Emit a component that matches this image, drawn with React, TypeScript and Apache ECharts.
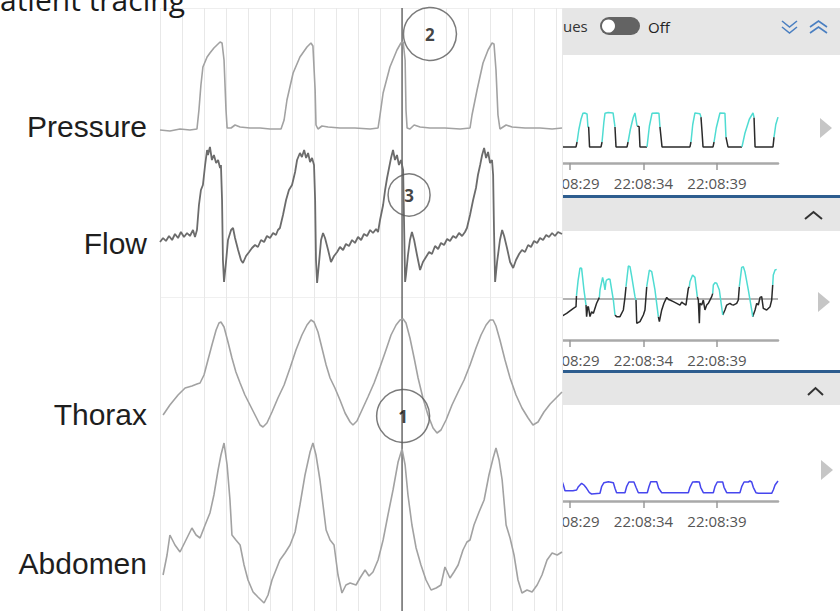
import React, { useEffect, useRef } from "react";
import * as echarts from "echarts";

// ---------- Left: patient tracing (time in seconds, signal units) ----------
const traceLabels = ["Pressure", "Flow", "Thorax", "Abdomen"];

const pressureTrace: number[][] = [
  [0, 6.0], [0.45, 5.8], [0.91, 6.2], [1.36, 6.0], [1.68, 6.2], [1.77, 10], [1.86, 15], [1.95, 18.6],
  [2.14, 20.6], [2.27, 21.4], [2.45, 22.4], [2.59, 23], [2.73, 23.6], [2.82, 23.4], [2.91, 20], [3.0, 10],
  [3.05, 6.4], [3.23, 6.4], [3.41, 7.0], [3.64, 6.6], [4.09, 6.4], [4.55, 6.4], [5.0, 6.2], [5.5, 6.2],
  [5.64, 8.0], [5.77, 12.0], [6.05, 17.4], [6.36, 20.6], [6.68, 22.6], [6.86, 23.4], [6.95, 22.8], [7.05, 14.0],
  [7.09, 7.0], [7.18, 6.2], [7.36, 6.8], [7.64, 6.6], [8.18, 6.4], [8.86, 6.4], [9.55, 6.2], [9.91, 6.4],
  [10.0, 9.0], [10.14, 13.4], [10.45, 18.6], [10.77, 22.0], [10.95, 23.4], [11.05, 23.6], [11.14, 20.0],
  [11.18, 10.0], [11.23, 6.4], [11.36, 6.2], [11.55, 7.0], [11.82, 6.6], [12.27, 6.4], [12.95, 6.4],
  [13.64, 6.2], [14.09, 6.4], [14.18, 9.0], [14.41, 14.0], [14.68, 19.4], [14.91, 22.0], [15.09, 23.4],
  [15.18, 23.2], [15.27, 18.0], [15.36, 9.0], [15.45, 6.2], [15.73, 7.0], [16.0, 6.6], [16.59, 6.4],
  [17.27, 6.4], [17.82, 6.2], [18.27, 6.4],
];

const flowTrace: number[][] = [
  [0, -2], [0.14, 2], [0.27, -1], [0.41, 4], [0.55, 0], [0.68, 6], [0.82, 2], [0.95, 8], [1.09, 3], [1.23, 7],
  [1.36, 4], [1.5, 10], [1.59, 3], [1.68, 10], [1.77, 35], [1.86, 50], [1.95, 55], [2.05, 75], [2.14, 90],
  [2.18, 85], [2.27, 93], [2.36, 80], [2.45, 85], [2.55, 77], [2.64, 80], [2.73, 72], [2.77, 75], [2.82, 40],
  [2.86, -20], [2.91, -42], [3.0, -22], [3.09, 0], [3.23, 10], [3.32, 12], [3.41, 2], [3.55, -10], [3.68, -20],
  [3.77, -23], [3.91, -16], [4.05, -12], [4.18, -8], [4.32, -5], [4.45, -7], [4.59, 0], [4.73, -2], [4.86, 4],
  [5.0, 2], [5.14, 7], [5.27, 5], [5.36, 10], [5.45, 12], [5.59, 25], [5.73, 40], [5.86, 50], [6.0, 55],
  [6.14, 68], [6.23, 80], [6.36, 87], [6.45, 83], [6.55, 90], [6.64, 82], [6.73, 87], [6.82, 78], [6.91, 82],
  [7.0, 75], [7.05, 40], [7.09, -20], [7.14, -43], [7.23, -22], [7.32, 0], [7.41, 7], [7.5, 2], [7.64, -10],
  [7.77, -22], [7.91, -16], [8.05, -12], [8.18, -7], [8.32, -10], [8.45, -4], [8.59, -6], [8.73, 0], [8.86, -3],
  [9.0, 3], [9.14, 0], [9.27, 6], [9.41, 4], [9.55, 10], [9.68, 7], [9.82, 11], [9.91, 8], [10.0, 20],
  [10.14, 35], [10.23, 50], [10.32, 62], [10.41, 72], [10.5, 82], [10.59, 90], [10.68, 80], [10.77, 85],
  [10.86, 75], [10.95, 80], [11.05, 70], [11.09, 20], [11.14, -42], [11.18, -35], [11.27, -15], [11.36, 0],
  [11.45, 8], [11.55, 0], [11.68, -15], [11.82, -30], [11.95, -22], [12.09, -17], [12.23, -12], [12.36, -14],
  [12.5, -6], [12.64, -9], [12.77, -3], [12.91, -5], [13.05, 1], [13.18, -1], [13.32, 4], [13.45, 2],
  [13.59, 7], [13.73, 4], [13.86, 8], [13.95, 12], [14.09, 25], [14.23, 40], [14.36, 52], [14.45, 65],
  [14.55, 75], [14.64, 85], [14.73, 92], [14.82, 82], [14.91, 88], [15.0, 77], [15.09, 80], [15.14, 65],
  [15.18, 10], [15.23, -42], [15.32, -22], [15.45, 0], [15.55, 10], [15.64, 4], [15.77, -8], [15.91, -22],
  [16.05, -28], [16.18, -20], [16.32, -14], [16.45, -10], [16.59, -12], [16.73, -5], [16.86, -7], [17.0, -1],
  [17.14, -3], [17.27, 2], [17.41, 0], [17.55, 5], [17.68, 3], [17.82, 7], [17.95, 4], [18.09, 8], [18.27, 6],
];

const thoraxTrace: number[][] = [
  [0.14, 45], [0.45, 55], [0.82, 65], [1.14, 72], [1.45, 74], [1.68, 76], [1.82, 77], [2.0, 85], [2.18, 100],
  [2.36, 115], [2.55, 130], [2.68, 137], [2.77, 138], [2.91, 133], [3.09, 118], [3.27, 102], [3.45, 88],
  [3.64, 77], [3.86, 65], [4.09, 55], [4.32, 45], [4.55, 35], [4.68, 33], [4.86, 37], [5.09, 48], [5.36, 62],
  [5.64, 75], [5.91, 92], [6.18, 110], [6.45, 125], [6.68, 135], [6.86, 140], [7.0, 138], [7.18, 128],
  [7.36, 112], [7.55, 95], [7.73, 82], [7.95, 72], [8.18, 60], [8.41, 47], [8.64, 38], [8.77, 35], [8.95, 39],
  [9.18, 50], [9.45, 63], [9.73, 77], [10.0, 93], [10.27, 110], [10.5, 125], [10.73, 135], [10.91, 140],
  [11.05, 141], [11.18, 137], [11.36, 122], [11.55, 102], [11.73, 82], [11.95, 62], [12.18, 45], [12.41, 32],
  [12.59, 27], [12.77, 30], [13.0, 40], [13.27, 55], [13.55, 68], [13.82, 80], [14.09, 95], [14.36, 112],
  [14.59, 125], [14.82, 135], [15.0, 140], [15.14, 140], [15.27, 134], [15.45, 120], [15.68, 100], [15.91, 82],
  [16.18, 65], [16.45, 52], [16.73, 42], [16.95, 35], [17.18, 38], [17.45, 48], [17.73, 56], [18.0, 62],
  [18.27, 68],
];

const abdomenTrace: number[][] = [
  [0.14, 36], [0.32, 56], [0.45, 76], [0.68, 66], [0.91, 59], [1.18, 71], [1.45, 83], [1.64, 76], [1.82, 73],
  [2.05, 86], [2.27, 98], [2.45, 116], [2.64, 141], [2.77, 156], [2.91, 168], [3.05, 146], [3.18, 111],
  [3.27, 76], [3.45, 71], [3.64, 66], [3.82, 46], [4.0, 31], [4.23, 19], [4.45, 14], [4.73, 8], [4.91, 16],
  [5.09, 31], [5.27, 41], [5.45, 51], [5.68, 58], [5.91, 66], [6.14, 79], [6.36, 106], [6.59, 136],
  [6.82, 159], [6.95, 168], [7.09, 156], [7.27, 131], [7.41, 106], [7.55, 81], [7.73, 71], [7.91, 66],
  [8.09, 36], [8.27, 18], [8.45, 26], [8.64, 28], [8.91, 26], [9.09, 33], [9.32, 41], [9.5, 35], [9.68, 39],
  [9.91, 51], [10.14, 71], [10.36, 96], [10.59, 121], [10.82, 149], [11.0, 162], [11.14, 146], [11.27, 116],
  [11.45, 86], [11.64, 63], [11.86, 46], [12.09, 31], [12.32, 21], [12.55, 23], [12.77, 26], [12.95, 44],
  [13.18, 33], [13.36, 39], [13.55, 46], [13.77, 61], [13.95, 69], [14.09, 71], [14.27, 86], [14.5, 99],
  [14.73, 111], [14.95, 136], [15.14, 153], [15.27, 163], [15.41, 151], [15.55, 131], [15.73, 86], [15.91, 73],
  [16.09, 56], [16.27, 31], [16.45, 18], [16.68, 21], [16.91, 19], [17.14, 26], [17.36, 36], [17.59, 51],
  [17.82, 58], [18.05, 56], [18.27, 59],
];

const cursorTime = 11.0;
const annotationLabels = ["2", "3", "1"];
const annotationTimes = [12.27, 11.32, 11.05];
const annotationValues = [25.2, 45, 44];

// ---------- Right: ventilator screen (seconds from 22:08:29) ----------
const tickSeconds = [0, 5, 10];
const tickLabels = ["22:08:29", "22:08:34", "22:08:39"];

const devPressureExp: number[][][] = [
  [[-0.6, 13.0], [-0.52, 4.6], [0.41, 4.6], [0.48, 6.0]],
  [[1.22, 10.3], [1.27, 10.2], [1.33, 4.6], [2.11, 4.6], [2.18, 6.0]],
  [[3.06, 10.3], [3.13, 4.6], [3.88, 4.6], [3.95, 6.0]],
  [[4.56, 10.6], [4.7, 10.4], [4.76, 4.6], [5.24, 4.6]],
  [[6.12, 10.3], [6.26, 4.6], [8.16, 4.6], [8.23, 6.0]],
  [[8.91, 13.1], [8.98, 9.0], [9.05, 4.6], [9.73, 4.6], [9.8, 6.0]],
  [[10.61, 7.4], [10.75, 4.6], [11.7, 4.6]],
  [[12.52, 13.0], [12.59, 4.6], [13.81, 4.6], [13.88, 7.4]],
];
const devPressureInsp: number[][][] = [
  [[0.48, 6.0], [0.6, 9.5], [0.75, 12.5], [0.88, 14.2], [1.0, 14.3], [1.16, 14.0], [1.22, 10.3]],
  [[2.18, 6.0], [2.3, 11.5], [2.38, 14.2], [2.6, 14.4], [2.93, 14.3], [3.06, 10.3]],
  [[3.95, 6.0], [4.1, 9.5], [4.3, 13.0], [4.42, 14.3], [4.56, 10.6]],
  [[5.24, 4.6], [5.4, 10.5], [5.58, 14.2], [5.9, 14.3], [6.05, 14.2], [6.12, 10.3]],
  [[8.23, 6.0], [8.35, 11.0], [8.5, 14.3], [8.84, 14.1], [8.91, 13.1]],
  [[9.8, 6.0], [9.95, 10.0], [10.2, 14.3], [10.54, 14.2], [10.61, 7.4]],
  [[11.7, 4.6], [11.9, 8.5], [12.2, 12.5], [12.45, 14.3], [12.52, 13.0]],
  [[13.88, 7.4], [14.0, 11.0], [14.15, 13.1]],
];

const devFlowExp: number[][][] = [
  [[-0.6, -17.2], [-0.23, -14.0], [0.23, -9.1], [0.41, -7.5], [0.44, 3.0]],
  [[1.09, -5.9], [1.13, -17.2], [1.2, -8.0], [1.25, -7.5], [1.36, -17.2], [1.47, -12.4], [1.59, -14.0], [1.81, -4.2], [2.0, 1.6]],
  [[3.06, -15.6], [3.17, -17.2], [3.4, -17.2], [3.63, -10.7], [3.74, 1.6], [3.81, 12.0]],
  [[4.49, -1.0], [4.54, -23.7], [4.76, -22.1], [4.99, -15.6], [5.1, -10.7], [5.17, 2.3], [5.22, 12.0]],
  [[6.01, -17.2], [6.08, -22.1], [6.24, -10.7], [6.39, -4.2], [6.58, 1.6], [6.7, -0.5], [6.8, -1.0], [7.03, -2.6], [7.26, -4.2], [7.48, -5.9], [7.6, -3.0], [7.71, -4.2], [7.89, -5.9], [8.05, 10.4], [8.12, 12.0]],
  [[8.66, 2.3], [8.73, -1.0], [8.8, -23.7], [8.84, -4.2], [8.96, -5.9], [9.07, -1.0], [9.18, -10.7], [9.3, -5.9], [9.41, -4.2], [9.64, 2.3], [9.71, 5.5]],
  [[10.39, -15.6], [10.43, -15.6], [10.54, -10.7], [10.66, -5.9], [10.88, -4.2], [11.0, -5.5], [11.11, -5.9], [11.34, -4.2], [11.45, -1.0], [11.52, 12.0]],
  [[12.43, -17.2], [12.47, -15.6], [12.59, -10.7], [12.7, -4.2], [12.81, -5.9], [12.93, 1.6], [13.04, 2.3], [13.15, -9.1], [13.38, -10.7], [13.61, -7.5], [13.72, -1.0], [13.79, 13.7]],
];
const devFlowInsp: number[][][] = [
  [[0.44, 3.0], [0.55, 18.0], [0.68, 30.2], [0.79, 29.9], [0.95, 8.8], [1.09, -5.9]],
  [[2.0, 1.6], [2.04, 8.8], [2.22, 21.1], [2.31, 15.3], [2.38, 8.8], [2.45, 17.0], [2.49, 18.5], [2.6, 19.5], [2.72, 19.2], [2.95, -1.0], [3.06, -15.6]],
  [[3.81, 12.0], [3.97, 32.2], [4.08, 31.5], [4.2, 21.8], [4.42, 2.3], [4.49, -1.0]],
  [[5.22, 12.0], [5.4, 28.3], [5.56, 26.7], [5.78, 8.8], [6.01, -17.2]],
  [[8.12, 12.0], [8.16, 16.9], [8.34, 23.4], [8.5, 21.1], [8.66, 2.3]],
  [[9.71, 5.5], [9.75, 13.7], [9.86, 15.9], [9.98, 15.3], [10.16, 8.8], [10.39, -15.6]],
  [[11.52, 12.0], [11.68, 30.9], [11.79, 31.5], [11.9, 26.7], [12.13, 8.8], [12.36, -10.7], [12.43, -17.2]],
  [[13.79, 13.7], [13.83, 23.4], [13.95, 28.3], [14.06, 28.9]],
];

const devEffort: number[][] = [
  [-0.57, 21], [-0.45, 16], [-0.34, 10.3], [-0.11, 10.3], [0.2, 10.3], [0.45, 11], [0.57, 14.3], [0.79, 17.7],
  [0.95, 16], [1.13, 12.7], [1.32, 8.3], [1.47, 7], [2.04, 7.7], [2.15, 14.3], [2.31, 18.3], [2.61, 19.3],
  [2.95, 18.3], [3.06, 12.7], [3.17, 8.3], [3.74, 8.3], [3.85, 14.3], [4.01, 19], [4.35, 19], [4.49, 13.7],
  [4.65, 8.3], [5.26, 8.3], [5.37, 14.3], [5.49, 19.3], [5.9, 19.3], [6.03, 12.7], [6.24, 8.3], [8.05, 8.3],
  [8.16, 13.7], [8.34, 19], [8.62, 19.3], [8.8, 19], [8.89, 13.7], [9.07, 8.3], [9.75, 8.3], [9.86, 14.3],
  [10.02, 19], [10.39, 19], [10.48, 13.7], [10.66, 8.3], [11.56, 8.3], [11.68, 14.3], [11.84, 19], [12.13, 19],
  [12.24, 20], [12.36, 19], [12.47, 13.7], [12.65, 8.3], [12.81, 7.7], [13.72, 7.7], [13.83, 11], [13.95, 16],
  [14.15, 20],
];

function joinSegments(segs: number[][][]) {
  const out: any[] = [];
  segs.forEach((s, i) => {
    if (i > 0) out.push([s[0][0], "-"]);
    s.forEach((p) => out.push(p));
  });
  return out;
}

const CYAN = "#4fdcd2";
const DARK = "#2a2a2a";
const TRACE = "#a2a2a2";
const HEADER = "#e6e6e6";
const BLUE_LINE = "#2d5d8f";
const CHEV_BLUE = "#4a7fc1";

function buildOption() {
  const leftGrids = [
    { left: 160, top: 8, width: 402, height: 603 },
    { left: 160, top: 10, width: 402, height: 150 },
    { left: 160, top: 120, width: 402, height: 180 },
    { left: 160, top: 300, width: 402, height: 160 },
    { left: 160, top: 431, width: 402, height: 180 },
  ];
  const rightGrids = [
    { left: 540.6, top: 93, width: 237.4, height: 70 },
    { left: 540.6, top: 258, width: 237.4, height: 82 },
    { left: 540.6, top: 441, width: 237.4, height: 60 },
  ];
  const yRanges = [
    [0, 1], [0, 30], [-60, 120], [0, 160], [0, 180],
    [0, 20], [-40, 40], [0, 60],
  ];

  const xAxis: any[] = [];
  for (let i = 0; i < 5; i++) {
    xAxis.push({
      type: "value", gridIndex: i, min: 0, max: 18.27, interval: 1,
      show: i === 0, z: 3,
      axisLine: { show: false }, axisTick: { show: false }, axisLabel: { show: false },
      splitLine: { show: i === 0, lineStyle: { color: "#e8e8e8", width: 1 } },
    });
  }
  for (let i = 5; i < 8; i++) {
    xAxis.push({
      type: "value", gridIndex: i, min: -2, max: 14.15, z: 1,
      axisLine: { show: true, onZero: false, lineStyle: { color: "#a9a9a9", width: 2.5 } },
      axisTick: { show: true, customValues: tickSeconds, length: 7, lineStyle: { color: "#9a9a9a", width: 1.5 } },
      axisLabel: {
        show: true, customValues: tickSeconds,
        formatter: (v: number) => {
          const k = tickSeconds.indexOf(v);
          return k >= 0 ? tickLabels[k] : "";
        },
        color: "#555555", fontSize: 15, fontFamily: "Open Sans", margin: 12,
      },
      splitLine: { show: false },
    });
  }
  const yAxis = yRanges.map((r, i) => ({
    type: "value", gridIndex: i, min: r[0], max: r[1], show: false,
  }));

  const traceLine = (data: number[][], idx: number, color: string, width: number) => ({
    type: "line", xAxisIndex: idx, yAxisIndex: idx, data, symbol: "none", z: 4,
    lineStyle: { color, width }, silent: true,
  });

  const annoGrid = [1, 2, 3];
  const annoSize = [53, 42, 53];
  const annotationSeries = annotationLabels.map((lab, i) => ({
    type: "scatter", xAxisIndex: annoGrid[i], yAxisIndex: annoGrid[i], z: 5, silent: true,
    data: [[annotationTimes[i], annotationValues[i]]],
    symbol: "circle", symbolSize: annoSize[i],
    itemStyle: { color: "rgba(255,255,255,0)", borderColor: "#5a5a5a", borderWidth: 1.5 },
    label: {
      show: true, position: "inside", formatter: lab,
      fontFamily: "Open Sans", fontWeight: "bold", fontSize: 17, color: "#111",
    },
  }));

  const series: any[] = [
    {
      type: "line", xAxisIndex: 0, yAxisIndex: 0, symbol: "none", z: 4, silent: true,
      data: [[cursorTime, 0], [cursorTime, 1]],
      lineStyle: { color: "#4a4a4a", width: 1.2 },
    },
    traceLine(pressureTrace, 1, TRACE, 1.6),
    traceLine(flowTrace, 2, "#6c6c6c", 1.8),
    traceLine(thoraxTrace, 3, TRACE, 1.6),
    traceLine(abdomenTrace, 4, TRACE, 1.6),
    ...annotationSeries,
    {
      type: "line", xAxisIndex: 5, yAxisIndex: 5, symbol: "none", z: 1, silent: true,
      data: joinSegments(devPressureExp), lineStyle: { color: DARK, width: 1.5 },
    },
    {
      type: "line", xAxisIndex: 5, yAxisIndex: 5, symbol: "none", z: 1, silent: true,
      data: joinSegments(devPressureInsp), lineStyle: { color: CYAN, width: 1.5 },
    },
    {
      type: "line", xAxisIndex: 6, yAxisIndex: 6, symbol: "none", z: 1, silent: true,
      data: joinSegments(devFlowExp), lineStyle: { color: DARK, width: 1.5 },
      markLine: {
        silent: true, z: 1, symbol: ["none", "none"], label: { show: false },
        lineStyle: { color: "#9a9a9a", width: 1.5, type: "solid" },
        data: [{ yAxis: 0 }],
      },
    },
    {
      type: "line", xAxisIndex: 6, yAxisIndex: 6, symbol: "none", z: 1, silent: true,
      data: joinSegments(devFlowInsp), lineStyle: { color: CYAN, width: 1.5 },
    },
    {
      type: "line", xAxisIndex: 7, yAxisIndex: 7, symbol: "none", z: 1, silent: true,
      data: devEffort, lineStyle: { color: "#4646ee", width: 1.5 },
    },
  ];

  const labelY = [126, 243, 414, 563];
  const chevron = (pts: number[][], color: string, w: number) => ({
    type: "polyline", z: 0, silent: true,
    shape: { points: pts },
    style: { stroke: color, lineWidth: w, fill: null },
  });
  const triangle = (x: number, y: number) => ({
    type: "polygon", z: 0, silent: true,
    shape: { points: [[x, y], [x + 12, y + 10], [x, y + 20]] },
    style: { fill: "#c6c6c6" },
  });

  const graphic: any[] = [
    // right panel backgrounds
    { type: "rect", z: 0, silent: true, shape: { x: 562, y: 8, width: 278, height: 47 }, style: { fill: HEADER } },
    { type: "rect", z: 0, silent: true, shape: { x: 562, y: 195, width: 278, height: 3 }, style: { fill: BLUE_LINE } },
    { type: "rect", z: 0, silent: true, shape: { x: 562, y: 198, width: 278, height: 33 }, style: { fill: HEADER } },
    { type: "rect", z: 0, silent: true, shape: { x: 562, y: 370, width: 278, height: 3 }, style: { fill: BLUE_LINE } },
    { type: "rect", z: 0, silent: true, shape: { x: 562, y: 373, width: 278, height: 32 }, style: { fill: HEADER } },
    // header contents
    { type: "text", z: 0, silent: true, x: 563, y: 26, style: { text: "ues", font: '15px "Open Sans"', fill: "#333", textVerticalAlign: "middle" } },
    { type: "rect", z: 0, silent: true, shape: { x: 600, y: 17, width: 40, height: 18, r: 9 }, style: { fill: "#636363" } },
    { type: "circle", z: 0, silent: true, shape: { cx: 608.5, cy: 26, r: 6.5 }, style: { fill: "#ffffff" } },
    { type: "text", z: 0, silent: true, x: 648, y: 27, style: { text: "Off", font: '15px "Open Sans"', fill: "#222", textVerticalAlign: "middle" } },
    chevron([[782, 21], [789.5, 27], [797, 21]], CHEV_BLUE, 1.6),
    chevron([[782, 27], [789.5, 33], [797, 27]], CHEV_BLUE, 1.6),
    chevron([[810, 27], [818.5, 21], [827, 27]], CHEV_BLUE, 1.6),
    chevron([[810, 33], [818.5, 27], [827, 33]], CHEV_BLUE, 1.6),
    chevron([[805, 219], [813.5, 212], [822, 219]], "#333", 2),
    chevron([[808, 395], [815.5, 388], [823, 395]], "#333", 2),
    triangle(820, 118),
    triangle(818, 292),
    triangle(821, 460),
    // left picture covers the panel edge
    { type: "rect", z: 2, silent: true, shape: { x: 500, y: 0, width: 62, height: 611 }, style: { fill: "#ffffff" } },
    { type: "line", z: 3, silent: true, shape: { x1: 160, y1: 8.5, x2: 562, y2: 8.5 }, style: { stroke: "#eeeeee", lineWidth: 1 } },
    { type: "line", z: 3, silent: true, shape: { x1: 160, y1: 297.5, x2: 562, y2: 297.5 }, style: { stroke: "#f0f0f0", lineWidth: 1 } },
    // title and trace labels
    { type: "text", z: 5, silent: true, x: 0, y: -1, style: { text: "atient tracing", font: '30px "Open Sans"', fill: "#1a1a1a", textVerticalAlign: "middle" } },
    ...traceLabels.map((t, i) => ({
      type: "text", z: 5, silent: true, x: 147, y: labelY[i],
      style: { text: t, font: '30px "Liberation Sans"', fill: "#1e1e1e", textAlign: "right", textVerticalAlign: "middle" },
    })),
  ];

  return {
    animation: false,
    backgroundColor: "#ffffff",
    grid: [...leftGrids, ...rightGrids],
    xAxis,
    yAxis,
    series,
    graphic: { elements: graphic },
  };
}

export default function App() {
  const ref = useRef<HTMLDivElement>(null);
  useEffect(() => {
    if (!ref.current) return;
    const chart = echarts.init(ref.current, null, { renderer: "svg" });
    chart.setOption(buildOption() as any);
    return () => chart.dispose();
  }, []);
  return (
    <div
      ref={ref}
      style={{ position: "fixed", left: 0, top: 0, width: 840, height: 611, background: "#fff" }}
    />
  );
}
